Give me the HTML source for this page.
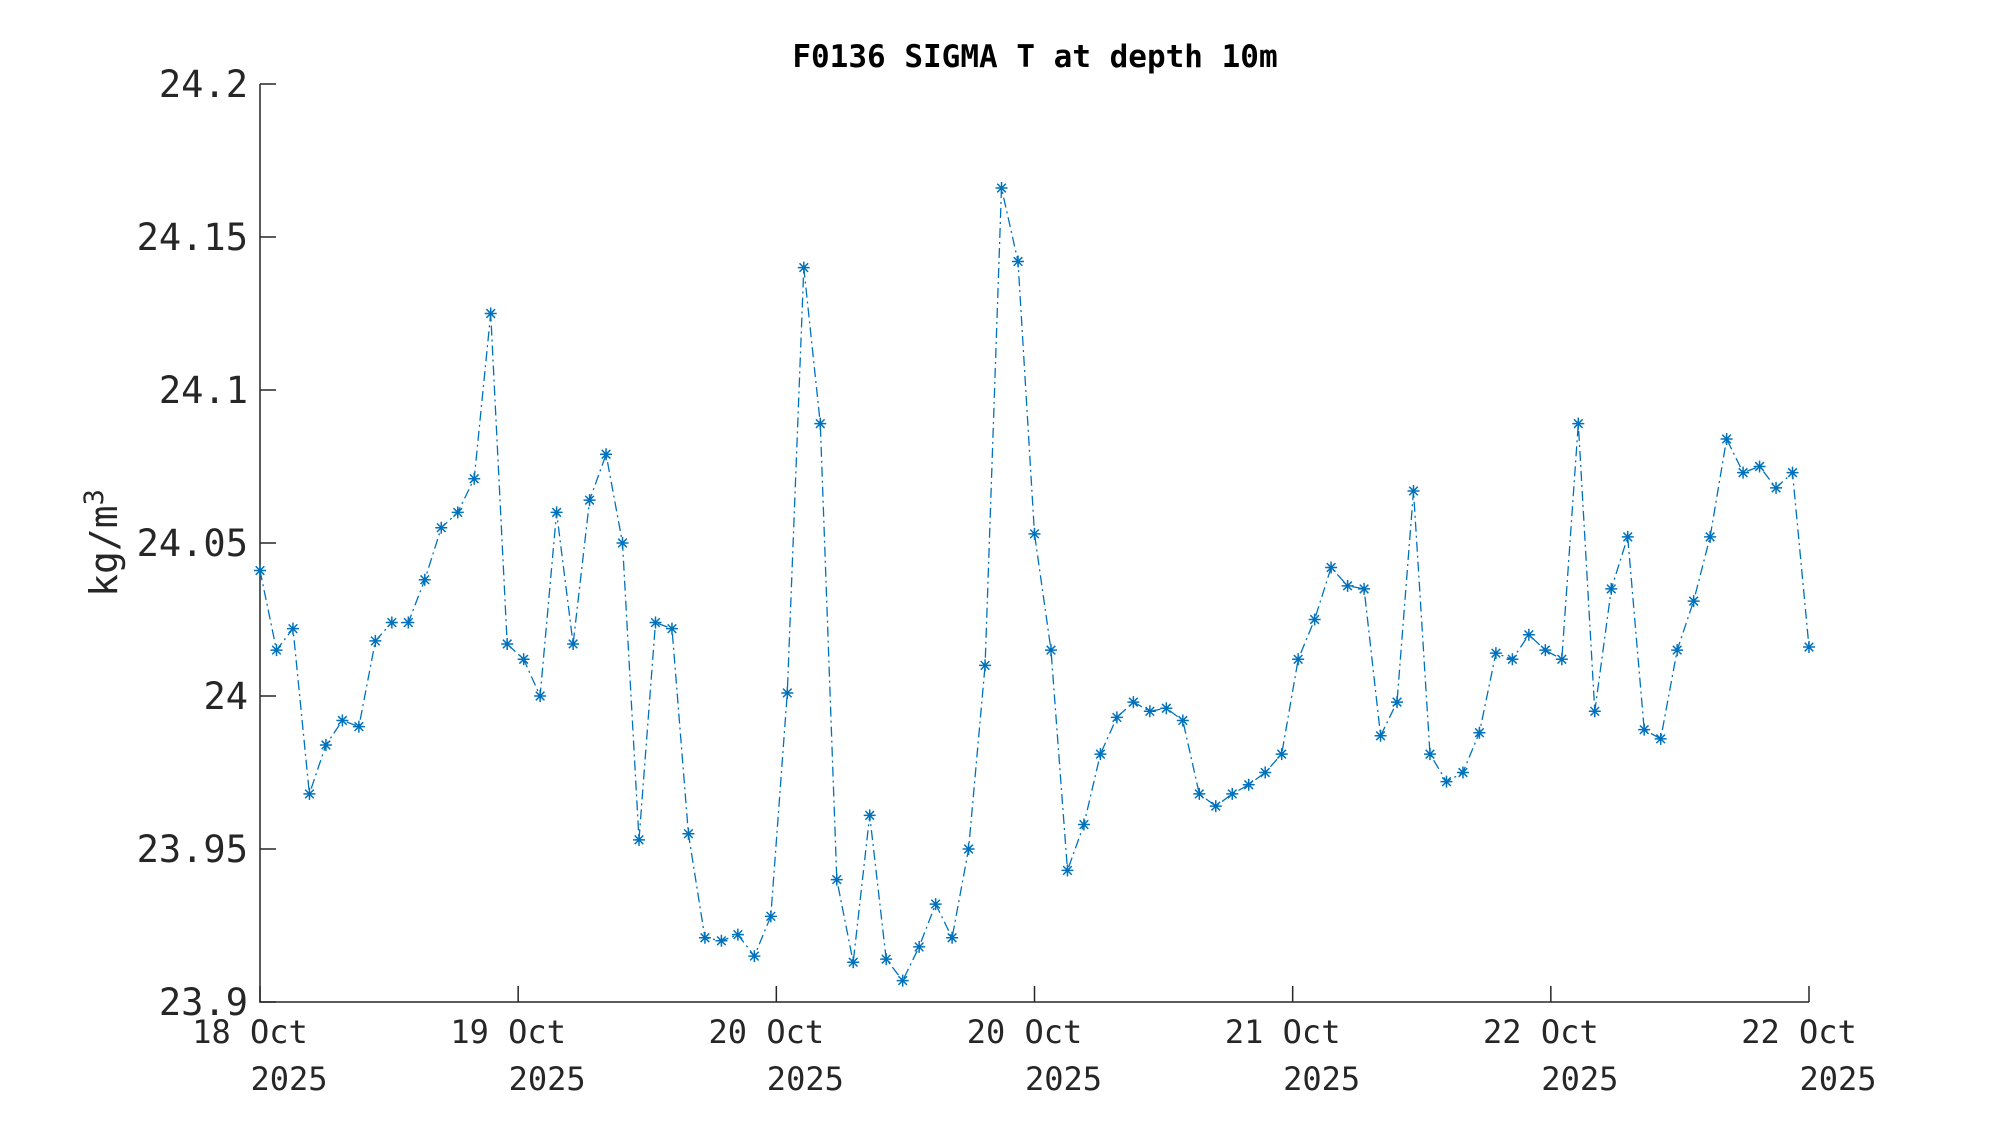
<!DOCTYPE html>
<html><head><meta charset="utf-8"><style>body{margin:0;background:#fff}svg{display:block}</style></head>
<body>
<svg id="s" width="2000" height="1125" xmlns="http://www.w3.org/2000/svg" font-family="'DejaVu Sans Mono','Liberation Mono',monospace" fill="#262626">
<text x="1035" y="67" text-anchor="middle" font-size="31" font-weight="bold" fill="#000">F0136 SIGMA T at depth 10m</text>
<path d="M260,84V1002H1809" fill="none" stroke="#262626" stroke-width="1.5"/>
<g id="ticks" stroke="#262626" stroke-width="1.5"></g>
<g id="labels" font-size="37"></g>
<text transform="translate(117,543) rotate(-90)" text-anchor="middle" font-size="38">kg/m<tspan dy="-14" font-size="27">3</tspan></text>
<g id="data"></g>
</svg>
<script>
var v=[24.041,24.015,24.022,23.968,23.984,23.992,23.990,24.018,24.024,24.024,24.038,24.055,24.060,24.071,24.125,24.017,24.012,24.000,24.060,24.017,24.064,24.079,24.050,23.953,24.024,24.022,23.955,23.921,23.920,23.922,23.915,23.928,24.001,24.140,24.089,23.940,23.913,23.961,23.914,23.907,23.918,23.932,23.921,23.950,24.010,24.166,24.142,24.053,24.015,23.943,23.958,23.981,23.993,23.998,23.995,23.996,23.992,23.968,23.964,23.968,23.971,23.975,23.981,24.012,24.025,24.042,24.036,24.035,23.987,23.998,24.067,23.981,23.972,23.975,23.988,24.014,24.012,24.020,24.015,24.012,24.089,23.995,24.035,24.052,23.989,23.986,24.015,24.031,24.052,24.084,24.073,24.075,24.068,24.073,24.016];
function X(i){return 260+i*1549/94}function Y(d){return 1002-(d-23.9)/0.3*918}
var pts=v.map((d,i)=>X(i).toFixed(1)+","+Y(d).toFixed(1)).join(" ");
var h='<polyline points="'+pts+'" fill="none" stroke="#0072BD" stroke-width="1.3" stroke-dasharray="10,4,2,4"/>';
v.forEach((d,i)=>{var x=X(i),y=Y(d),r=6;h+='<path d="M'+(x-r)+','+y+'h'+2*r+'M'+x+','+(y-r)+'v'+2*r+'M'+(x-4.3)+','+(y-4.3)+'l8.6,8.6M'+(x-4.3)+','+(y+4.3)+'l8.6,-8.6" stroke="#0072BD" stroke-width="1.5"/>';});
document.getElementById('data').innerHTML=h;
var t='',l='';
var yl=['23.9','23.95','24','24.05','24.1','24.15','24.2'];
yl.forEach((s,k)=>{var y=1002-k*153;t+='<path d="M260,'+y+'h16"/>';l+='<text x="248" y="'+(y+13)+'" text-anchor="end">'+s+'</text>';});
var dl=['18','19','20','20','21','22','22'];
dl.forEach((s,k)=>{var x=260+k*1549/6;t+='<path d="M'+x+',1002v-16"/>';l+='<text x="'+(x-10)+'" y="1043" text-anchor="middle" font-size="32">'+s+' Oct</text><text x="'+(x+29)+'" y="1090" text-anchor="middle" font-size="32">2025</text>';});
document.getElementById('ticks').innerHTML=t;document.getElementById('labels').innerHTML=l;
</script>
</body></html>
